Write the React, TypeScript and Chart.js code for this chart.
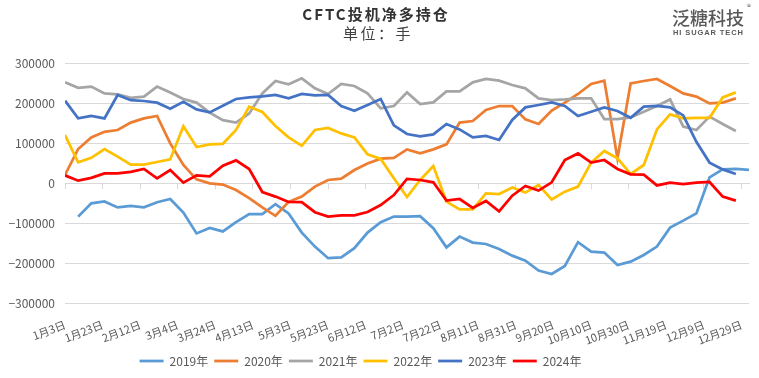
import React, { useEffect, useRef } from "react";
import { Chart, registerables } from "chart.js";

Chart.register(...registerables);

// Weekly report dates as day-of-year (shared category axis)
const weekDays = [3, 10, 17, 24, 31, 38, 45, 52, 59, 66, 73, 80, 87, 94, 101, 108, 115, 122, 129, 136, 143, 150, 157, 164, 171, 178, 185, 192, 199, 206, 213, 220, 227, 234, 241, 248, 255, 262, 269, 276, 283, 290, 297, 304, 311, 318, 325, 332, 339, 346, 353, 360, 367];

// X-axis tick positions (day-of-year) and labels
const tickDays = [3, 23, 43, 63, 83, 103, 123, 143, 163, 183, 203, 223, 243, 263, 283, 303, 323, 343, 363];
const tickLabels = ["1月3日", "1月23日", "2月12日", "3月4日", "3月24日", "4月13日", "5月3日", "5月23日", "6月12日", "7月2日", "7月22日", "8月11日", "8月31日", "9月20日", "10月10日", "10月30日", "11月19日", "12月9日", "12月29日"];

const yTicks = [-300000, -200000, -100000, 0, 100000, 200000, 300000];

const seriesNames = ["2019年", "2020年", "2021年", "2022年", "2023年", "2024年"];
const seriesColors = ["#5B9BD5", "#ED7D31", "#A5A5A5", "#FFC000", "#4472C4", "#FF0000"];

const v2019 = [null, -84000, -51000, -46000, -61000, -57500, -61000, -48000, -40000, -74000, -126000, -112500, -121000, -98000, -77500, -77500, -53000, -76000, -124000, -159000, -188000, -186000, -163000, -124000, -98000, -84000, -84000, -83000, -113000, -161000, -134000, -149000, -152500, -165000, -181600, -194000, -219000, -227500, -207500, -148000, -171600, -174000, -205000, -196600, -180000, -159000, -111600, -94000, -76000, 14000, 34000, 35000, 32500];
const v2020 = [20000, 85000, 114000, 128000, 132500, 151000, 161600, 167500, 99000, 45000, 9000, -1000, -4000, -17500, -38000, -61000, -82000, -47000, -34000, -9000, 7500, 11000, 32500, 49000, 61000, 63000, 84000, 74000, 84000, 96600, 151000, 155000, 182500, 192500, 192500, 159000, 147500, 181000, 201000, 222500, 247500, 256000, 61600, 249000, 255000, 260000, 242500, 224000, 216000, 199000, 201000, 211600];
const v2021 = [251600, 238000, 241000, 224000, 221600, 213000, 216000, 241000, 226000, 210000, 201000, 176000, 157000, 151000, 174000, 224000, 255000, 246600, 261600, 236600, 222500, 247500, 242500, 224000, 186600, 192500, 226600, 197500, 201600, 229000, 229000, 251600, 260000, 255800, 245000, 236600, 211600, 207500, 209000, 211600, 211600, 160000, 160000, 164000, 178000, 192500, 209000, 141000, 132500, 166000, 147500, 130000];
const v2022 = [120000, 51600, 63000, 85000, 65800, 45800, 45800, 52500, 59000, 141600, 90000, 96600, 98000, 132500, 190800, 177500, 142500, 114000, 93000, 132500, 137500, 124000, 114000, 71600, 60000, 11700, -35000, 7500, 42500, -46600, -66000, -66000, -26000, -27500, -11000, -24000, -5000, -41000, -21600, -9000, 51000, 80000, 61600, 22500, 45000, 134000, 171600, 161600, 163000, 163000, 214000, 226600];
const v2023 = [205800, 161600, 168000, 161600, 220000, 207000, 205000, 200800, 185800, 203000, 184000, 176600, 193000, 210000, 214000, 216600, 220000, 211600, 222500, 219000, 220000, 192500, 180800, 195000, 210000, 144000, 122500, 116600, 121600, 147500, 134000, 114000, 117500, 107500, 157500, 189000, 195000, 201600, 192500, 167500, 178000, 189000, 180000, 163000, 191000, 192500, 189000, 169000, 103000, 51000, 34000, 22500];
const v2024 = [19000, 5800, 13000, 24000, 24000, 28000, 35000, 11700, 32500, 800, 19000, 16700, 43000, 56600, 35000, -22500, -34000, -47500, -48000, -73000, -84000, -81000, -81000, -72500, -55000, -30000, 10000, 7500, 1700, -44000, -40000, -62500, -45000, -71000, -31600, -7500, -19000, 1700, 57500, 74000, 51000, 57500, 35000, 21600, 21000, -6000, 1000, -2500, 1000, 2500, -34000, -44000];

const seriesValues = [v2019, v2020, v2021, v2022, v2023, v2024];

const FONT = '"Noto Sans CJK SC", "Noto Sans", sans-serif';
const TEXT = "#595959";
const GRID = "#d9d9d9";

const legendShift = {
  id: "legendShift",
  afterLayout(chart: any) {
    const lg = chart.legend;
    if (lg) {
      lg.left -= 14;
      lg.right -= 14;
    }
  },
};

export default function App() {
  const ref = useRef<HTMLCanvasElement | null>(null);

  useEffect(() => {
    if (!ref.current) return;
    const datasets = seriesValues.map((vals, k) => ({
      label: seriesNames[k],
      data: vals.map((v, i) => ({ x: weekDays[i], y: v })),
      borderColor: seriesColors[k],
      backgroundColor: seriesColors[k],
      borderWidth: 2.75,
      pointRadius: 0,
      pointHoverRadius: 0,
      tension: 0,
      spanGaps: false,
      order: seriesValues.length - k,
    }));

    const setXTicks = (s: any) => {
      s.ticks = tickDays.map((v) => ({ value: v }));
    };

    const chart = new Chart(ref.current, {
      type: "line",
      data: { datasets },
      plugins: [legendShift],
      options: {
        responsive: false,
        animation: false,
        events: [],
        layout: { padding: { top: 63, left: 0, right: 10, bottom: 1 } },
        scales: {
          x: {
            type: "linear",
            min: 3,
            max: 367,
            position: "bottom",
            afterBuildTicks: setXTicks,
            afterFit: (s: any) => {
              s.height = 46;
            },
            ticks: {
              autoSkip: false,
              minRotation: 21,
              maxRotation: 21,
              padding: 7,
              color: TEXT,
              font: { size: 11, family: FONT },
              callback: (v: any) => {
                const idx = tickDays.indexOf(Number(v));
                return idx >= 0 ? tickLabels[idx] : "";
              },
            },
            grid: { display: false },
            border: { display: false },
          },
          x2: {
            type: "linear",
            min: 3,
            max: 367,
            position: { y: 0 } as any,
            afterBuildTicks: setXTicks,
            ticks: { display: false },
            grid: { drawOnChartArea: false, drawTicks: true, tickLength: 5, color: GRID, lineWidth: 1 },
            border: { display: true, color: GRID, width: 1 },
          },
          y: {
            type: "linear",
            min: -300000,
            max: 300000,
            afterBuildTicks: (s: any) => {
              s.ticks = yTicks.map((v) => ({ value: v }));
            },
            afterFit: (s: any) => {
              s.width = 65;
            },
            ticks: {
              padding: 10,
              color: TEXT,
              font: { size: 12, family: FONT },
              callback: (v: any) => (Number(v) < 0 ? "\u2212" + Math.abs(Number(v)) : String(v)),
            },
            grid: { color: GRID, lineWidth: 1, drawTicks: false },
            border: { display: false },
          },
        },
        plugins: {
          legend: {
            position: "bottom",
            labels: {
              usePointStyle: true,
              pointStyle: "line",
              pointStyleWidth: 24,
              padding: 6,
              color: TEXT,
              font: { size: 12, family: FONT },
              sort: (a: any, b: any) => a.datasetIndex - b.datasetIndex,
            },
          },
          tooltip: { enabled: false },
          title: { display: false },
        },
      } as any,
    });
    return () => chart.destroy();
  }, []);

  return (
    <div
      style={{
        position: "fixed",
        left: 0,
        top: 0,
        width: 759,
        height: 378,
        background: "#ffffff",
        fontFamily: FONT,
        overflow: "hidden",
      }}
    >
      <canvas ref={ref} width={759} height={378} style={{ width: 759, height: 378, display: "block" }} />
      <div
        style={{
          position: "absolute",
          left: 0,
          top: 4,
          width: 752,
          textAlign: "center",
          fontSize: 15,
          fontWeight: 700,
          letterSpacing: 2,
          color: "#333333",
          lineHeight: "20px",
        }}
      >
        CFTC投机净多持仓
      </div>
      <div
        style={{
          position: "absolute",
          left: 0,
          top: 23,
          width: 756,
          textAlign: "center",
          fontSize: 15,
          letterSpacing: 2.5,
          color: "#404040",
          lineHeight: "20px",
        }}
      >
        单位：手
      </div>
      <div
        style={{
          position: "absolute",
          left: 672,
          top: 5,
          fontSize: 18,
          fontWeight: 500,
          color: TEXT,
          lineHeight: "24px",
          whiteSpace: "nowrap",
        }}
      >
        泛糖科技
      </div>
      <div
        style={{
          position: "absolute",
          left: 747,
          top: 2,
          fontSize: 8,
          color: TEXT,
          lineHeight: "10px",
        }}
      >
        ®
      </div>
      <div
        style={{
          position: "absolute",
          left: 673,
          top: 28,
          fontSize: 7.5,
          fontWeight: 700,
          letterSpacing: 0.9,
          color: TEXT,
          lineHeight: "10px",
          whiteSpace: "nowrap",
          fontFamily: '"Liberation Sans", Arial, sans-serif',
        }}
      >
        HI SUGAR TECH
      </div>
    </div>
  );
}
